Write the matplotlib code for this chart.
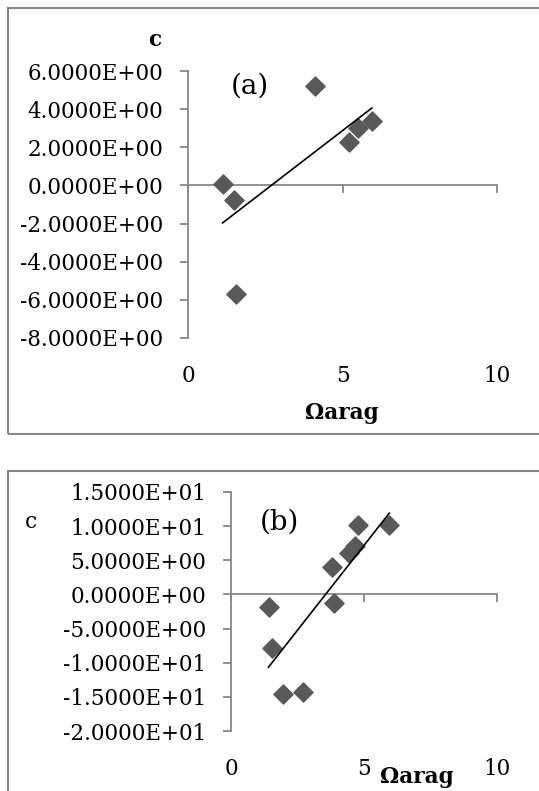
"""Two scatter panels of c against Omega arag with linear trendlines."""

import matplotlib
matplotlib.use("Agg")
import matplotlib.pyplot as plt
import numpy as np
from matplotlib.patches import Rectangle
from matplotlib.ticker import FuncFormatter

plt.rcParams["font.family"] = ["DejaVu Serif"]

# panel (a)
omega_a = [1.12, 1.5, 1.55, 4.1, 5.2, 5.5, 5.95]
c_a = [0.1, -0.75, -5.7, 5.2, 2.3, 3.0, 3.4]
yticks_a = [6, 4, 2, 0, -2, -4, -6, -8]

# panel (b)
omega_b = [1.41, 1.54, 1.95, 2.71, 3.8, 3.86, 4.42, 4.67, 4.76, 5.95]
c_b = [-1.8, -7.9, -14.6, -14.3, 4.06, -1.3, 6.0, 7.1, 10.2, 10.2]
yticks_b = [15, 10, 5, 0, -5, -10, -15, -20]

xticks = [0, 5, 10]

AXIS_GRAY = "#878787"
MARKER_GRAY = "#595959"
FS = 15.5
W, H = 539, 791


def sci(v, _pos):
    return f"{v:.4E}"


def draw_panel(fig, rect, xs, ys, yticks, sec_loc):
    ax = fig.add_axes(rect)
    ax.set_xlim(0, 10)
    ax.set_ylim(min(yticks), max(yticks))
    ax.patch.set_alpha(0)

    for side in ("top", "right"):
        ax.spines[side].set_visible(False)
    ax.spines["left"].set_color(AXIS_GRAY)
    ax.spines["left"].set_linewidth(1.3)
    ax.spines["bottom"].set_position(("data", 0))
    ax.spines["bottom"].set_color(AXIS_GRAY)
    ax.spines["bottom"].set_linewidth(1.3)

    ax.set_yticks(yticks)
    ax.yaxis.set_major_formatter(FuncFormatter(sci))
    ax.tick_params(axis="y", direction="out", length=6, width=1.3, color=AXIS_GRAY,
                   labelsize=FS, pad=12)
    ax.set_xticks(xticks)
    ax.tick_params(axis="x", direction="out", length=6, width=1.3, color=AXIS_GRAY,
                   labelbottom=False)

    sec = ax.secondary_xaxis(sec_loc)
    sec.set_xticks(xticks)
    sec.spines["bottom"].set_visible(False)
    sec.tick_params(length=0, labelsize=FS, pad=0)

    ax.scatter(xs, ys, marker="D", s=95, color=MARKER_GRAY, zorder=3, clip_on=False)

    slope, icpt = np.polyfit(xs, ys, 1)
    xl = np.array([min(xs), max(xs)])
    ax.plot(xl, slope * xl + icpt, color="black", linewidth=1.2, zorder=4)
    return ax


fig = plt.figure(figsize=(W / 100, H / 100), dpi=100, facecolor="white")

# outer frames
fig.add_artist(Rectangle((7.5 / W, 1 - 434 / H), 1.0, (434 - 7.5) / H,
                         transform=fig.transFigure, fill=False,
                         edgecolor=AXIS_GRAY, linewidth=1.5))
fig.add_artist(Rectangle((7.5 / W, -0.05), 1.0, 0.05 + 1 - 471 / H,
                         transform=fig.transFigure, fill=False,
                         edgecolor=AXIS_GRAY, linewidth=1.5))

ax_a = draw_panel(fig, [188 / W, 1 - 338 / H, (497 - 188) / W, (338 - 71) / H],
                  omega_a, c_a, yticks_a, -0.1)
ax_b = draw_panel(fig, [231 / W, 1 - 731 / H, (497 - 231) / W, (731 - 492) / H],
                  omega_b, c_b, yticks_b, -0.115)

fig.text(155 / W, 1 - 40 / H, "c", fontsize=FS, fontweight="bold", ha="center", va="center")
fig.text(250 / W, 1 - 86 / H, "(a)", fontsize=20, ha="center", va="center")
fig.text(342 / W, 1 - 413 / H, "Ωarag", fontsize=FS, fontweight="bold", ha="center", va="center")

fig.text(31 / W, 1 - 522 / H, "c", fontsize=FS, ha="center", va="center")
fig.text(279 / W, 1 - 522 / H, "(b)", fontsize=20, ha="center", va="center")
fig.text(417 / W, 1 - 777 / H, "Ωarag", fontsize=FS, fontweight="bold", ha="center", va="center")

fig.savefig("out.png", dpi=100, facecolor="white")
